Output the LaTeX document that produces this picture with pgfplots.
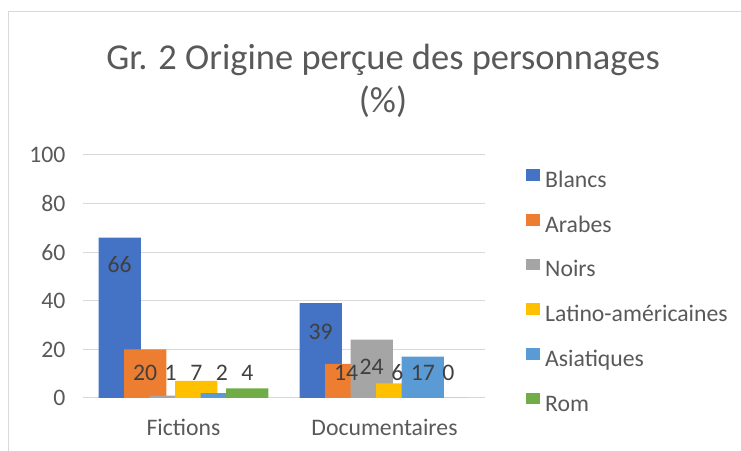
\documentclass[border=0pt]{standalone}
\usepackage{pgfplots}
\usepackage{pgfplotstable}
\pgfplotsset{compat=1.18}
\usepackage{fontspec}
\setmainfont{Carlito}
\definecolor{cBl}{HTML}{4472C4}
\definecolor{cAr}{HTML}{ED7D31}
\definecolor{cNo}{HTML}{A5A5A5}
\definecolor{cLa}{HTML}{FFC000}
\definecolor{cAs}{HTML}{5B9BD5}
\definecolor{cRo}{HTML}{70AD47}
\definecolor{txt}{HTML}{595959}
\definecolor{lab}{HTML}{404040}
\definecolor{gridc}{HTML}{D9D9D9}
\pgfplotstableread{
x bl ar no la as ro lbl lar lno lla las lro
0 66 20 1 7 2 4 54.7 10.3 10.3 10.3 10.3 10.3
1 39 14 24 6 17 0 27.2 10.3 12.8 10.3 10.3 10.3
}\data
\begin{document}
\begin{tikzpicture}[x=1bp,y=1bp]
\useasboundingbox (0,0) rectangle (741,451);
\draw[gridc, line width=1bp] (8,-5) -- (8,439) -- (760,439);
\node[text=txt, font=\fontsize{36.6}{42}\selectfont] at (383,391) {Gr. 2 Origine perçue des personnages};
\node[text=txt, font=\fontsize{36.6}{42}\selectfont] at (383,349) {(\%)};
\begin{axis}[
  at={(83bp,53bp)}, anchor=south west,
  scale only axis, width=402bp, height=243bp,
  xmin=-0.5, xmax=1.5, ymin=0, ymax=100,
  ytick={0,20,...,100},
  xtick={0,1}, xticklabels={Fictions,Documentaires},
  axis line style={draw=none},
  major tick length=0pt,
  ymajorgrids, grid style={gridc, line width=1bp},
  /pgf/number format/assume math mode=true,
  tick label style={font=\fontsize{23.8}{28}\selectfont, text=txt},
  yticklabel style={xshift=-14bp},
  xticklabel style={yshift=-18bp},
  legend style={draw=none, fill=none, at={(1.102,0.942)}, anchor=north west,
    font=\fontsize{23.8}{28}\selectfont, text=txt, inner sep=0pt, row sep=21.4bp,
    nodes={inner sep=0pt, text height=17bp, text depth=5bp}},
  legend cell align=left,
  legend image code/.code={\fill[#1] (0bp,0.6bp) rectangle (14bp,12.3bp);},
  /tikz/every odd column/.append style={column sep=5bp},
  nodes near coords style={font=\fontsize{23.8}{28}\selectfont, text=lab, anchor=center},
]
\addplot[ybar, bar width=0.21, bar shift=-0.3175, fill=cBl, draw=none] table[x=x,y=bl]{\data};
\addlegendentry{Blancs}
\addplot[ybar, bar width=0.21, bar shift=-0.1905, fill=cAr, draw=none] table[x=x,y=ar]{\data};
\addlegendentry{Arabes}
\addplot[ybar, bar width=0.21, bar shift=-0.0635, fill=cNo, draw=none] table[x=x,y=no]{\data};
\addlegendentry{Noirs}
\addplot[ybar, bar width=0.21, bar shift=0.0635, fill=cLa, draw=none] table[x=x,y=la]{\data};
\addlegendentry{Latino-américaines}
\addplot[ybar, bar width=0.21, bar shift=0.1905, fill=cAs, draw=none] table[x=x,y=as]{\data};
\addlegendentry{Asiatiques}
\addplot[ybar, bar width=0.21, bar shift=0.3175, fill=cRo, draw=none] table[x=x,y=ro]{\data};
\addlegendentry{Rom}
\addplot[draw=none, mark=none, forget plot, nodes near coords, point meta=explicit symbolic] table[x expr=\thisrow{x}-0.3175, y=lbl, meta=bl]{\data};
\addplot[draw=none, mark=none, forget plot, nodes near coords, point meta=explicit symbolic] table[x expr=\thisrow{x}-0.1905, y=lar, meta=ar]{\data};
\addplot[draw=none, mark=none, forget plot, nodes near coords, point meta=explicit symbolic] table[x expr=\thisrow{x}-0.0635, y=lno, meta=no]{\data};
\addplot[draw=none, mark=none, forget plot, nodes near coords, point meta=explicit symbolic] table[x expr=\thisrow{x}+0.0635, y=lla, meta=la]{\data};
\addplot[draw=none, mark=none, forget plot, nodes near coords, point meta=explicit symbolic] table[x expr=\thisrow{x}+0.1905, y=las, meta=as]{\data};
\addplot[draw=none, mark=none, forget plot, nodes near coords, point meta=explicit symbolic] table[x expr=\thisrow{x}+0.3175, y=lro, meta=ro]{\data};
\end{axis}
\end{tikzpicture}
\end{document}
